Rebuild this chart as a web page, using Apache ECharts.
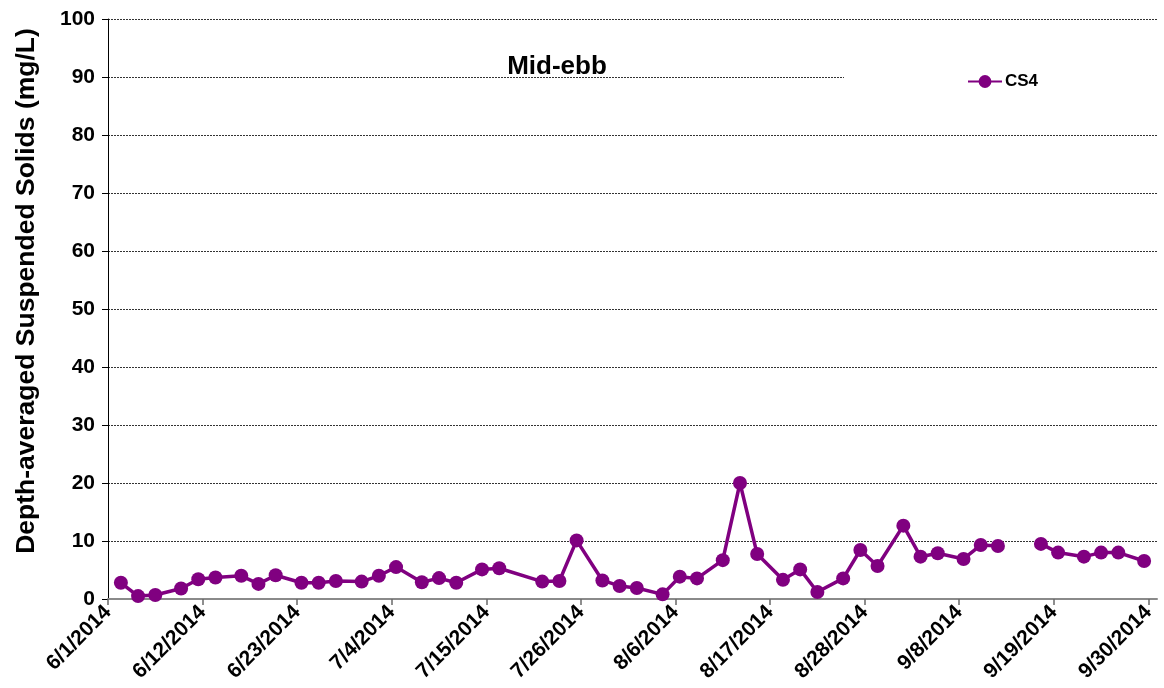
<!DOCTYPE html>
<html>
<head>
<meta charset="utf-8">
<script src="https://cdn.jsdelivr.net/npm/echarts@6/dist/echarts.min.js"></script>
<style>
html,body{margin:0;padding:0;background:#fff;}
#chart{width:1164px;height:688px;}
</style>
</head>
<body>
<div id="chart"></div>
<script>
// ---- data ----
const axisStart = '2014-06-01';
const axisEnd = '2014-10-01';
const tickStepDays = 11;
const dates = ['2014-06-02','2014-06-04','2014-06-06','2014-06-09','2014-06-11','2014-06-13','2014-06-16','2014-06-18','2014-06-20','2014-06-23','2014-06-25','2014-06-27','2014-06-30','2014-07-02','2014-07-04','2014-07-07','2014-07-09','2014-07-11','2014-07-14','2014-07-16','2014-07-21','2014-07-23','2014-07-25','2014-07-28','2014-07-30','2014-08-01','2014-08-04','2014-08-06','2014-08-08','2014-08-11','2014-08-13','2014-08-15','2014-08-18','2014-08-20','2014-08-22','2014-08-25','2014-08-27','2014-08-29','2014-09-01','2014-09-03','2014-09-05','2014-09-08','2014-09-10','2014-09-12','2014-09-15','2014-09-17','2014-09-19','2014-09-22','2014-09-24','2014-09-26','2014-09-29'];
const cs4 = [2.8,0.5,0.7,1.8,3.4,3.7,4.0,2.6,4.1,2.8,2.8,3.1,3.0,4.0,5.5,2.9,3.6,2.8,5.1,5.3,3.0,3.1,10.1,3.2,2.25,1.9,0.8,3.85,3.55,6.7,20.0,7.75,3.3,5.1,1.2,3.55,8.45,5.7,12.65,7.3,7.9,6.9,9.3,9.15,null,9.5,8.0,7.3,8.0,8.0,6.55];
const seriesName = 'CS4';
const titleText = 'Mid-ebb';
const yAxisTitle = 'Depth-averaged Suspended Solids (mg/L)';

// ---- helpers ----
const DAY = 86400000;
const t0 = Date.parse(axisStart + 'T00:00:00Z');
const dayOffset = s => (Date.parse(s + 'T00:00:00Z') - t0) / DAY;
const totalDays = dayOffset(axisEnd);
const tickValues = [];
for (let d = 0; d <= totalDays; d += tickStepDays) tickValues.push(d);
const fmtDate = v => {
  const dt = new Date(t0 + Math.round(v) * DAY);
  return (dt.getUTCMonth() + 1) + '/' + dt.getUTCDate() + '/' + dt.getUTCFullYear();
};
// Points sit in the middle of their day (date axis "between tick marks")
const seriesData = dates.map((d, i) => [dayOffset(d) + 0.5, cs4[i]]);

const FONT = 'Liberation Sans, Arial, sans-serif';
const PURPLE = '#800080';
const chart = echarts.init(document.getElementById('chart'), null, {renderer: 'canvas'});
chart.setOption({
  animation: false,
  backgroundColor: '#fff',
  title: {
    text: titleText,
    left: 552, top: 49, textAlign: 'center',
    textStyle: {fontFamily: FONT, fontWeight: 'bold', fontSize: 26, color: '#000'}
  },
  legend: {
    data: [seriesName],
    left: 967, top: 73, padding: 0,
    itemWidth: 34, itemHeight: 16, itemGap: 4,
    textStyle: {fontFamily: FONT, fontWeight: 'bold', fontSize: 17, color: '#000', padding: [0, 0, 0, -2]}
  },
  graphic: [{
    type: 'rect', z: 1,
    shape: {x: 844, y: 60, width: 320, height: 40},
    style: {fill: '#fff'}
  }],
  grid: {left: 108, right: 7, top: 19, bottom: 89, containLabel: false, outerBoundsMode: 'none'},
  xAxis: {
    type: 'value',
    min: 0, max: totalDays,
    interval: tickStepDays,
    splitLine: {show: false},
    axisLine: {lineStyle: {color: '#8a8a8a', width: 2}},
    axisTick: {show: true, length: 6, lineStyle: {color: '#6a6a6a', width: 1.5}, customValues: tickValues},
    axisLabel: {
      customValues: tickValues,
      formatter: v => fmtDate(v),
      rotate: 45, margin: 10,
      fontFamily: FONT, fontWeight: 'bold', fontSize: 21, color: '#000'
    }
  },
  yAxis: {
    type: 'value', min: 0, max: 100, interval: 10,
    name: yAxisTitle, nameLocation: 'middle', nameGap: 68,
    nameTextStyle: {fontFamily: FONT, fontWeight: 'bold', fontSize: 26.5, color: '#000', padding: [0, 0, 0, 36]},
    axisLine: {show: true, lineStyle: {color: '#000', width: 1}},
    axisTick: {show: true, length: 6, inside: false, lineStyle: {color: '#000'}},
    axisLabel: {fontFamily: FONT, fontWeight: 'bold', fontSize: 21, color: '#000', margin: 13},
    splitLine: {show: true, lineStyle: {color: '#333', type: [2, 1], width: 1}}
  },
  series: [{
    name: seriesName,
    type: 'line',
    data: seriesData,
    connectNulls: false,
    z: 3,
    symbol: 'circle', symbolSize: 14,
    lineStyle: {color: PURPLE, width: 3.5},
    itemStyle: {color: PURPLE}
  }]
});
</script>
</body>
</html>
